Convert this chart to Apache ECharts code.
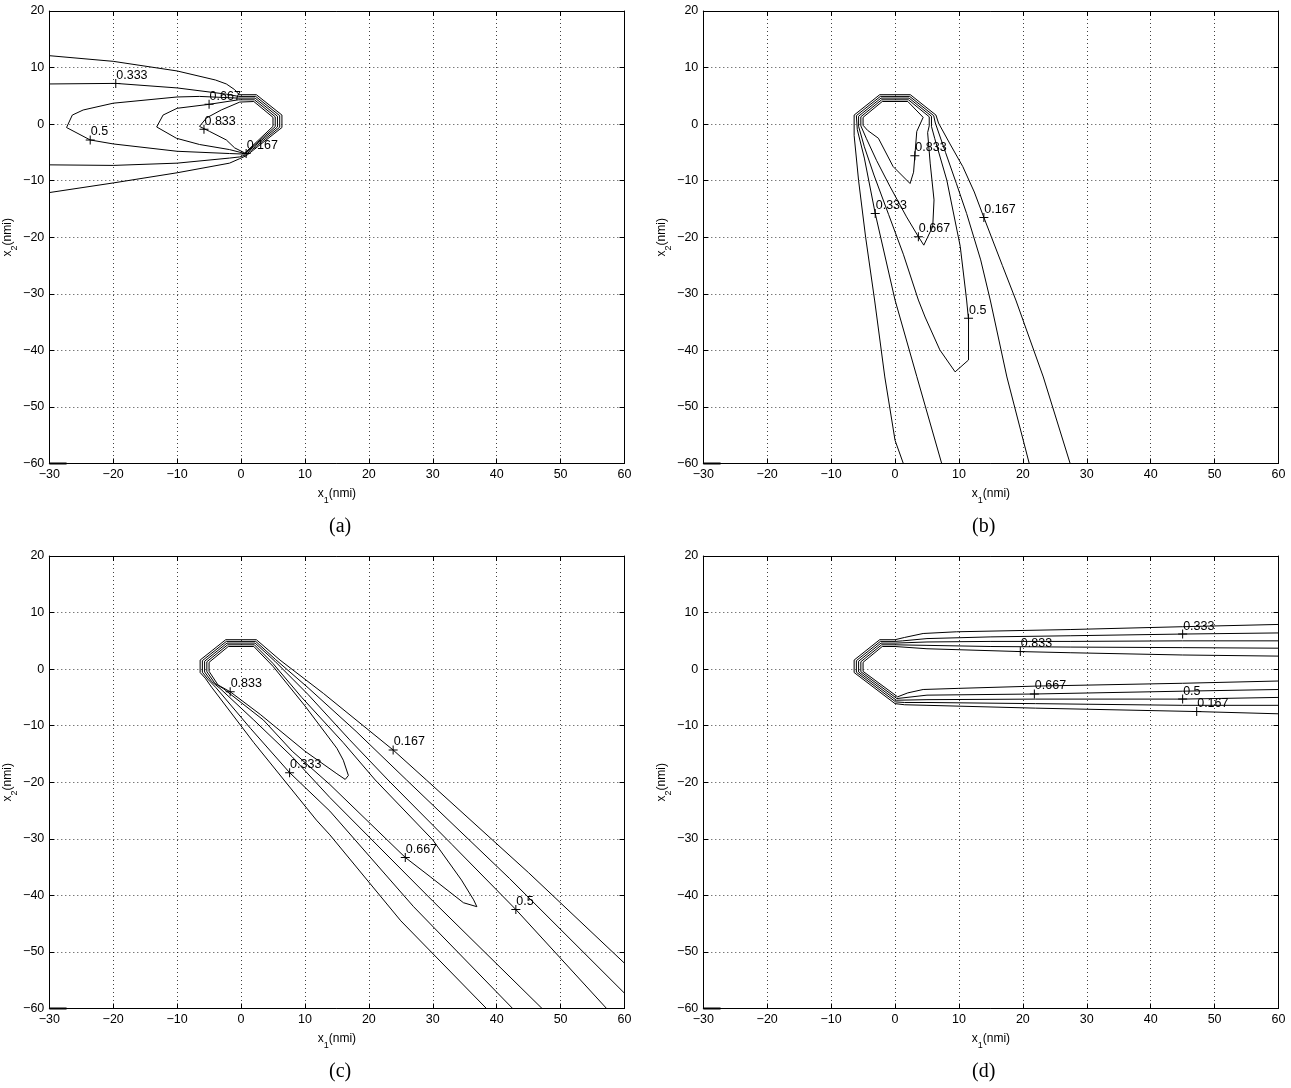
<!DOCTYPE html>
<html><head><meta charset="utf-8">
<script src="https://cdn.jsdelivr.net/npm/echarts@6/dist/echarts.min.js"></script>
<style>html,body{margin:0;padding:0;background:#fff}#c{width:1291px;height:1088px}</style>
</head><body><div id="c"></div>
<script>
// ---------- axes ----------
const X_MIN = -30, X_MAX = 60, Y_MIN = -60, Y_MAX = 20, TICK_STEP = 10;
const PANEL_CAPTIONS = ['(a)', '(b)', '(c)', '(d)'];
const LEVEL_TEXT = ['0.167', '0.333', '0.5', '0.667', '0.833'];
const CORNER = [[-30, -60], [-27.3, -60]];

// ---------- panel (a) ----------
const A_0167 = [[-30,12.1],[-20,11.1],[-10,9.4],[-4,7.8],[-2.3,7.1],[-1,6.1],[-0.3,5.2],[2.4,5.2],[6.4,1.6],[6.4,-0.6],[0.8,-5.6],[-0.2,-6.1],[-1.8,-6.9],[-10,-8.6],[-20,-10.4],[-30,-12.1]];
const A_0333 = [[-30,7.1],[-19.6,7.2],[-10,6.4],[-2.3,5.3],[-0.4,4.9],[2.3,4.9],[6.05,1.5],[6.05,-0.55],[0.7,-5.45],[-0.2,-5.8],[-1.8,-6.0],[-10,-6.9],[-20,-7.3],[-30,-7.2]];
const A_0500 = [[-0.5,4.6],[-6.5,4.9],[-10,4.8],[-20,3.7],[-24.7,2.5],[-26.4,1.6],[-27.3,-0.6],[-23.6,-2.8],[-20,-3.5],[-10,-4.8],[-1.8,-5.2],[0.6,-5.3],[5.7,-0.5],[5.7,1.4],[2.2,4.6],[-0.5,4.6]];
const A_0667 = [[-0.4,4.3],[-5,3.5],[-10,2.8],[-12.2,1.6],[-13.2,-0.5],[-10.1,-2.5],[-6.5,-3.6],[-1.8,-4.5],[0.6,-5.2],[5.35,-0.45],[5.35,1.3],[2.1,4.3],[-0.4,4.3]];
const A_0833 = [[-0.2,3.9],[-3.1,2.5],[-5.4,1.1],[-6.5,-0.4],[-4.9,-1.3],[-2.3,-2.8],[-1,-4.2],[0.6,-5.1],[5.0,-0.4],[5.0,1.2],[2.0,4.0],[-0.2,3.9]];
const A_LABEL_POS = [[-19.6,7.2],[-5,3.5],[-23.6,-2.8],[-5.8,-0.9],[0.8,-5.2]];
const A_LABEL_TEXT = ['0.333','0.667','0.5','0.833','0.167'];

// ---------- panel (b) ----------
const B_0167 = [[1.3,-60],[0,-55.9],[-1.6,-44.7],[-3.2,-31.1],[-4.6,-20],[-5.7,-10],[-6.4,-2],[-6.4,1.6],[-2.4,5.2],[2.4,5.2],[6.4,1.6],[6.8,0.2],[8.6,-3.5],[10.6,-7.5],[12.4,-12],[13.9,-16.5],[16.8,-25],[18.9,-31.1],[23.2,-44.7],[27.4,-60]];
const B_0333 = [[7.3,-60],[3.4,-44.6],[0.0,-31.1],[-3.1,-15.8],[-4.8,-6],[-5.9,-1],[-6.05,1.5],[-2.3,4.9],[2.3,4.9],[6.05,1.5],[6.3,0.2],[7.9,-5],[9.6,-10.5],[11.2,-15.8],[13.4,-24],[14.9,-31.1],[17.5,-44.7],[21,-60]];
const B_0500 = [[-5.7,1.4],[-5.7,-0.4],[-4.8,-4],[-3.3,-9],[-1,-16],[1.3,-23],[3.65,-31.1],[4.7,-34.1],[7,-39.9],[9.4,-43.8],[11.5,-41.7],[11.5,-34.6],[11.2,-31.1],[10.2,-21.6],[8.1,-9.9],[6.2,-2.5],[5.7,-0.4],[5.7,1.4],[2.2,4.6],[-2.2,4.6],[-5.7,1.4]];
const B_0667 = [[-5.35,1.3],[-5.35,-0.3],[-4.5,-2.5],[-2.9,-6.4],[-0.8,-11],[1.8,-16.4],[3.65,-19.9],[4.5,-21.4],[5.9,-18.1],[6.1,-13.4],[5.5,-6.9],[5.1,-1.5],[5.35,-0.3],[5.35,1.3],[2.1,4.3],[-2.1,4.3],[-5.35,1.3]];
const B_0833 = [[-5.0,1.2],[-5.0,-0.2],[-4.3,-1.1],[-2.6,-2.5],[-0.3,-7.5],[2.35,-10.5],[2.9,-8.5],[3.1,-5.6],[3.4,-1.3],[4.4,1.2],[2.0,4.0],[-2.0,4.0],[-5.0,1.2]];
const B_LABEL_POS = [[3.1,-5.6],[-3.1,-15.8],[3.65,-19.9],[13.9,-16.5],[11.5,-34.3]];
const B_LABEL_TEXT = ['0.833','0.333','0.667','0.167','0.5'];

// ---------- panel (c) ----------
const C_0167 = [[38.4,-60],[25,-44.5],[13.9,-29.3],[11.8,-26.7],[2,-13],[-4.6,-3.2],[-5.6,-1.6],[-6.4,-0.6],[-6.4,1.6],[-2.4,5.2],[2.4,5.2],[6.1,1.6],[12.9,-4.3],[23.8,-14.3],[29,-19.6],[45,-36],[60,-52]];
const C_0333 = [[42.5,-60],[27,-42],[13.9,-25.1],[7.6,-18.3],[1.5,-10.5],[-3.9,-3.3],[-5.1,-1.9],[-6.05,-0.55],[-6.05,1.5],[-2.3,4.9],[2.3,4.9],[5.4,1.7],[10.5,-3.3],[18,-11],[25.9,-19.6],[42,-37],[60,-57.3]];
const C_0500 = [[47.1,-60],[30,-41],[13.9,-22.7],[8,-15.5],[2,-9],[-3.3,-3.4],[-4.6,-2.2],[-5.7,-0.5],[-5.7,1.4],[-2.2,4.6],[2.2,4.6],[5.3,1.4],[10.5,-4.5],[17,-12.5],[23,-19.6],[33,-31],[43,-42.5],[57.2,-60]];
const C_0667 = [[36.9,-42],[34.8,-41.3],[29.6,-36.7],[25.7,-33.3],[13.9,-20.4],[8,-14.5],[3.5,-9],[-2.7,-3.5],[-4.1,-2.5],[-5.35,-0.45],[-5.35,1.3],[-2.1,4.3],[2.1,4.3],[5,1],[9.5,-5],[16,-13],[21,-19.6],[30,-30.2],[34.5,-37.3],[36.4,-40.8],[36.9,-42]];
const C_0833 = [[16.3,-19.5],[15,-18.5],[10,-14.5],[3,-8],[-1.7,-4],[-3.6,-2.8],[-5.0,-0.4],[-5.0,1.2],[-2.0,4.0],[2.0,4.0],[5,0.5],[10,-6.5],[15,-14],[16,-16.1],[16.8,-18.8],[16.3,-19.5]];
const C_LABEL_POS = [[-1.7,-4.0],[7.6,-18.3],[23.8,-14.3],[25.7,-33.3],[43,-42.5]];
const C_LABEL_TEXT = ['0.833','0.333','0.167','0.667','0.5'];

// ---------- panel (d) ----------
const D_0167 = [[60,7.9],[45,7.5],[27.4,7.0],[9.6,6.6],[4.4,6.3],[1.5,5.6],[0,5.2],[-2.4,5.2],[-6.4,1.6],[-6.4,-0.6],[0,-6.1],[1.5,-6.3],[5,-6.4],[22,-6.9],[47.2,-7.5],[60,-7.9]];
const D_0333 = [[60,6.4],[45,6.2],[27.4,5.9],[15,5.7],[5,5.4],[1.2,5.0],[0,4.9],[-2.3,4.9],[-6.05,1.5],[-6.05,-0.55],[0.1,-5.8],[1.5,-5.9],[5,-5.9],[22,-6.1],[45,-6.4],[60,-6.4]];
const D_0500 = [[60,5.0],[45,5.0],[27.4,4.9],[15,4.9],[5,4.8],[0,4.6],[-2.2,4.6],[-5.7,1.4],[-5.7,-0.5],[0.2,-5.5],[5,-5.4],[22,-5.3],[45,-5.3],[60,-5.0]];
const D_0667 = [[60,3.7],[45,3.8],[27.4,3.9],[15,4.0],[5,4.2],[0,4.3],[-2.1,4.3],[-5.35,1.3],[-5.35,-0.45],[0.3,-5.2],[5,-4.6],[21.8,-4.4],[45,-3.9],[60,-3.6]];
const D_0833 = [[60,2.3],[45,2.5],[27.4,2.9],[19.6,3.1],[5,3.6],[0,4.0],[-2.0,4.0],[-5.0,1.2],[-5.0,-0.4],[0.4,-4.9],[2,-4.2],[4.4,-3.6],[10,-3.4],[22,-3.0],[45,-2.5],[60,-2.1]];
const D_LABEL_POS = [[45,6.2],[19.6,3.1],[21.8,-4.4],[45,-5.3],[47.2,-7.5]];
const D_LABEL_TEXT = ['0.333','0.833','0.667','0.5','0.167'];

// ---------- layout ----------
const GRIDS = [
  {left: 49.3, top: 11, width: 575.2, height: 452.5},
  {left: 703.3, top: 11, width: 575.2, height: 452.5},
  {left: 49.3, top: 556, width: 575.2, height: 452.5},
  {left: 703.3, top: 556, width: 575.2, height: 452.5}
];
const CAPTION_POS = [[341, 528], [984, 528], [341, 1073], [984, 1073]];

const PANELS = [
  {lines: [A_0167, A_0333, A_0500, A_0667, A_0833], pos: A_LABEL_POS, text: A_LABEL_TEXT},
  {lines: [B_0167, B_0333, B_0500, B_0667, B_0833], pos: B_LABEL_POS, text: B_LABEL_TEXT},
  {lines: [C_0167, C_0333, C_0500, C_0667, C_0833], pos: C_LABEL_POS, text: C_LABEL_TEXT},
  {lines: [D_0167, D_0333, D_0500, D_0667, D_0833], pos: D_LABEL_POS, text: D_LABEL_TEXT}
];

const FONT = 'Liberation Sans, Arial, Helvetica, sans-serif';
const fmt = v => String(v).replace('-', '\u2212');
const tickInside = {show: true, inside: true, length: 5, lineStyle: {color: '#000', width: 1}};
const line = {show: true, onZero: false, lineStyle: {color: '#000', width: 1}};
const dotted = {show: true, lineStyle: {color: '#000', width: 1, type: [1, 3], opacity: 0.75}};
const nameRich = {
  a: {fontSize: 12, fontFamily: FONT, color: '#000', lineHeight: 18, verticalAlign: 'top'},
  s: {fontSize: 9, fontFamily: FONT, color: '#000', lineHeight: 9, verticalAlign: 'bottom'}
};

const xAxes = [], yAxes = [], series = [], graphics = [];
GRIDS.forEach((g, i) => {
  xAxes.push({
    gridIndex: i, type: 'value', min: X_MIN, max: X_MAX, interval: TICK_STEP, position: 'bottom',
    axisLine: line, axisTick: tickInside, splitLine: dotted,
    axisLabel: {margin: 5, fontSize: 12.5, color: '#000', fontFamily: FONT, formatter: fmt},
    name: '{a|x}{s|1}{a|(nmi)}', nameLocation: 'middle', nameGap: 24,
    nameTextStyle: {rich: nameRich}
  });
  xAxes.push({
    gridIndex: i, type: 'value', min: X_MIN, max: X_MAX, interval: TICK_STEP, position: 'top',
    axisLine: line, axisTick: tickInside, splitLine: {show: false}, axisLabel: {show: false}
  });
  yAxes.push({
    gridIndex: i, type: 'value', min: Y_MIN, max: Y_MAX, interval: TICK_STEP, position: 'left',
    axisLine: line, axisTick: tickInside, splitLine: dotted,
    axisLabel: {margin: 5, fontSize: 12.5, color: '#000', fontFamily: FONT, formatter: fmt},
    name: '{a|x}{s|2}{a|(nmi)}', nameLocation: 'middle', nameGap: 28, nameRotate: 90,
    nameTextStyle: {rich: nameRich}
  });
  yAxes.push({
    gridIndex: i, type: 'value', min: Y_MIN, max: Y_MAX, interval: TICK_STEP, position: 'right',
    axisLine: line, axisTick: tickInside, splitLine: {show: false}, axisLabel: {show: false}
  });

  const p = PANELS[i];
  p.lines.forEach((d, k) => {
    series.push({
      type: 'line', name: LEVEL_TEXT[k], xAxisIndex: 2 * i, yAxisIndex: 2 * i,
      data: d, showSymbol: false, symbol: 'none', clip: true,
      lineStyle: {color: '#000', width: 1}, z: 3, silent: true
    });
  });
  series.push({
    type: 'line', xAxisIndex: 2 * i, yAxisIndex: 2 * i, data: CORNER,
    showSymbol: false, symbol: 'none', clip: false,
    lineStyle: {color: '#000', width: 2}, z: 3, silent: true
  });
  series.push({
    type: 'scatter', xAxisIndex: 2 * i, yAxisIndex: 2 * i,
    data: p.pos.map((v, k) => ({value: v, name: p.text[k]})),
    symbol: 'path://M0,4L9,4L9,5L0,5Z M4,0L5,0L5,9L4,9Z', symbolSize: 9,
    itemStyle: {color: '#000', opacity: 1}, z: 4, silent: true,
    label: {show: true, formatter: '{b}', position: [5, -10], fontSize: 12.5,
      color: '#000', opacity: 1, fontFamily: FONT}
  });
  graphics.push({
    type: 'text', left: CAPTION_POS[i][0] - 12, top: CAPTION_POS[i][1] - 11,
    style: {text: PANEL_CAPTIONS[i], fontSize: 20, fontFamily: 'Liberation Serif, Times New Roman, serif', fill: '#000'}
  });
});

const chart = echarts.init(document.getElementById('c'), null, {renderer: 'canvas'});
chart.setOption({
  animation: false,
  backgroundColor: '#fff',
  grid: GRIDS.map(g => Object.assign({containLabel: false}, g)),
  xAxis: xAxes, yAxis: yAxes, series: series, graphic: graphics
});
</script></body></html>
